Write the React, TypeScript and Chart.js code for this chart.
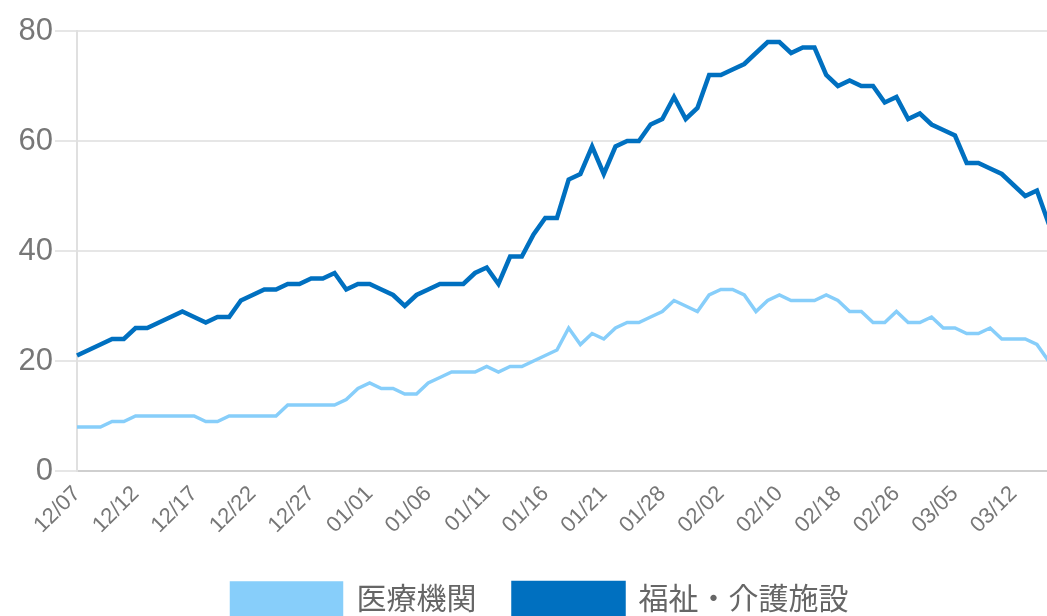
import React, { useEffect, useRef } from "react";
import { Chart, registerables } from "chart.js";

Chart.register(...registerables);

const dates: string[] = [
  "12/07", "12/08", "12/09", "12/10", "12/11", "12/12", "12/13", "12/14", "12/15", "12/16",
  "12/17", "12/18", "12/19", "12/20", "12/21", "12/22", "12/23", "12/24", "12/25", "12/26",
  "12/27", "12/28", "12/29", "12/30", "12/31", "01/01", "01/02", "01/03", "01/04", "01/05",
  "01/06", "01/07", "01/08", "01/09", "01/10", "01/11", "01/12", "01/13", "01/14", "01/15",
  "01/16", "01/17", "01/18", "01/19", "01/20", "01/21", "01/22", "01/25", "01/26", "01/27",
  "01/28", "01/29", "01/30", "01/31", "02/01", "02/02", "02/04", "02/05", "02/08", "02/09",
  "02/10", "02/12", "02/15", "02/16", "02/17", "02/18", "02/19", "02/22", "02/24", "02/25",
  "02/26", "03/01", "03/02", "03/03", "03/04", "03/05", "03/08", "03/09", "03/10", "03/11",
  "03/12", "03/15", "03/16", "03/17", "03/18",
];

const medical: number[] = [
  8, 8, 8, 9, 9, 10, 10, 10, 10, 10,
  10, 9, 9, 10, 10, 10, 10, 10, 12, 12,
  12, 12, 12, 13, 15, 16, 15, 15, 14, 14,
  16, 17, 18, 18, 18, 19, 18, 19, 19, 20,
  21, 22, 26, 23, 25, 24, 26, 27, 27, 28,
  29, 31, 30, 29, 32, 33, 33, 32, 29, 31,
  32, 31, 31, 31, 32, 31, 29, 29, 27, 27,
  29, 27, 27, 28, 26, 26, 25, 25, 26, 24,
  24, 24, 23, 20, 18,
];

const welfare: number[] = [
  21, 22, 23, 24, 24, 26, 26, 27, 28, 29,
  28, 27, 28, 28, 31, 32, 33, 33, 34, 34,
  35, 35, 36, 33, 34, 34, 33, 32, 30, 32,
  33, 34, 34, 34, 36, 37, 34, 39, 39, 43,
  46, 46, 53, 54, 59, 54, 59, 60, 60, 63,
  64, 68, 64, 66, 72, 72, 73, 74, 76, 78,
  78, 76, 77, 77, 72, 70, 71, 70, 70, 67,
  68, 64, 65, 63, 62, 61, 56, 56, 55, 54,
  52, 50, 51, 45, 42,
];

const seriesNames: string[] = ["医療機関", "福祉・介護施設"];
const yTicks: number[] = [0, 20, 40, 60, 80];

const FONT = "'Liberation Sans', 'Noto Sans CJK JP', Arial, sans-serif";

export default function App() {
  const ref = useRef<HTMLCanvasElement | null>(null);

  useEffect(() => {
    document.body.style.margin = "0";
    const canvas = ref.current;
    if (!canvas) return;
    const chart = new Chart(canvas, {
      type: "line",
      data: {
        labels: dates,
        datasets: [
          {
            label: seriesNames[0],
            data: medical,
            borderColor: "#87CEFA",
            backgroundColor: "#87CEFA",
            borderWidth: 3.5,
            pointRadius: 0,
            tension: 0,
            fill: false,
          },
          {
            label: seriesNames[1],
            data: welfare,
            borderColor: "#0070C0",
            backgroundColor: "#0070C0",
            borderWidth: 4.5,
            pointRadius: 0,
            tension: 0,
            fill: false,
          },
        ],
      },
      options: {
        responsive: false,
        animation: false,
        devicePixelRatio: 1,
        layout: { padding: { top: 31, right: 1, left: 0, bottom: 0 } },
        plugins: {
          legend: {
            position: "bottom",
            labels: {
              boxWidth: 110,
              boxHeight: 36,
              color: "#666",
              font: { family: FONT, size: 30 },
              padding: 37,
            },
          },
          tooltip: { enabled: false },
        },
        scales: {
          x: {
            grid: { display: false },
            border: { display: true, color: "#cfcfcf", width: 2 },
            ticks: {
              autoSkip: false,
              minRotation: 45,
              maxRotation: 45,
              color: "#777",
              font: { family: FONT, size: 22 },
              padding: 2,
              callback: (_v: any, i: number) => (i % 5 === 0 ? dates[i] : ""),
            },
            afterFit: (s: any) => {
              s.height = 75;
            },
          },
          y: {
            min: 0,
            max: 80,
            afterBuildTicks: (s: any) => {
              s.ticks = yTicks.map((v) => ({ value: v }));
            },
            grid: { color: "#e6e6e6", lineWidth: 2, tickLength: 22 },
            border: { display: true, color: "#e0e0e0", width: 2 },
            ticks: {
              color: "#777",
              font: { family: FONT, size: 31 },
              padding: 2,
            },
            afterFit: (s: any) => {
              s.width = 77;
            },
          },
        },
      },
    });
    return () => chart.destroy();
  }, []);

  return (
    <div style={{ position: "fixed", left: 0, top: 0, width: 1047, height: 616, overflow: "hidden", background: "#fff" }}>
      <canvas ref={ref} width={1081} height={629} />
    </div>
  );
}
